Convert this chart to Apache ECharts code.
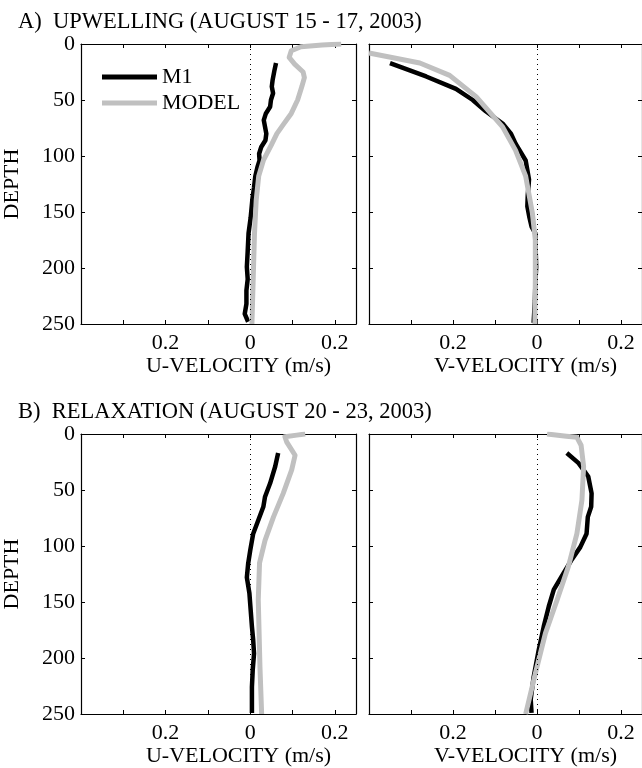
<!DOCTYPE html>
<html>
<head>
<meta charset="utf-8">
<script src="https://cdn.jsdelivr.net/npm/echarts@6/dist/echarts.min.js"></script>
<style>
  html, body { margin: 0; padding: 0; background: #fff; }
  #chart { width: 642px; height: 768px; }
</style>
</head>
<body>
<div id="chart"></div>
<script>
// Velocity profiles: depth (m) vs velocity (m/s), observed (M1) and model

// A) upwelling, U component
const depthM1UpU = [17, 24, 32, 38, 44, 50, 56, 62, 68, 74, 80, 86, 92, 98, 104, 110, 118, 128, 139, 155, 169, 185, 199, 210, 220, 232, 241, 248];
const m1UpU      = [0.061, 0.057, 0.053, 0.051, 0.054, 0.049, 0.047, 0.037, 0.032, 0.035, 0.038, 0.036, 0.026, 0.021, 0.022, 0.017, 0.012, 0.009, 0.005, 0.001, -0.004, -0.006, -0.008, -0.006, -0.009, -0.009, -0.013, -0.005];
const depthModelUpU = [0, 1, 2.5, 6, 12, 18, 25, 30, 38, 50, 62, 72, 80, 90, 104, 118, 140, 170, 210, 250];
const modelUpU      = [0.215, 0.17, 0.12, 0.097, 0.092, 0.105, 0.125, 0.128, 0.122, 0.112, 0.097, 0.078, 0.063, 0.050, 0.031, 0.020, 0.014, 0.010, 0.007, 0.004];

// A) upwelling, V component
const depthM1UpV = [17, 29, 40, 50, 60, 71, 80, 89, 104, 121, 135, 145, 155, 163, 169, 185, 199, 215, 229, 249];
const m1UpV      = [-0.350, -0.264, -0.193, -0.153, -0.122, -0.082, -0.062, -0.051, -0.027, -0.019, -0.022, -0.023, -0.018, -0.013, -0.004, -0.003, -0.002, -0.004, -0.005, -0.008];
const depthModelUpV = [8, 17, 28, 47, 74, 95, 118, 151, 175, 210, 250];
const modelUpV      = [-0.400, -0.279, -0.208, -0.145, -0.082, -0.051, -0.027, -0.011, -0.004, -0.004, -0.005];

// B) relaxation, U component
const depthM1RelU = [17, 29, 44, 56, 65, 77, 89, 104, 116, 128, 142, 157, 172, 184, 196, 210, 226, 249];
const m1RelU      = [0.066, 0.059, 0.047, 0.035, 0.031, 0.019, 0.007, 0.000, -0.005, -0.008, -0.002, 0.001, 0.004, 0.007, 0.009, 0.006, 0.004, 0.004];
const depthModelRelU = [0, 1, 2.4, 7, 19, 32, 53, 74, 95, 115, 148, 208, 250];
const modelRelU      = [0.13, 0.11, 0.082, 0.086, 0.106, 0.098, 0.078, 0.055, 0.035, 0.022, 0.019, 0.023, 0.027];

// B) relaxation, V component
const depthM1RelV = [17, 26, 38, 53, 65, 74, 89, 101, 112, 127, 139, 154, 172, 193, 217, 237, 249];
const m1RelV      = [0.071, 0.099, 0.122, 0.130, 0.129, 0.121, 0.118, 0.103, 0.083, 0.059, 0.040, 0.028, 0.016, 0.004, -0.008, -0.015, -0.013];
const depthModelRelV = [0, 2, 3, 10, 29, 59, 89, 118, 148, 178, 214, 250];
const modelRelV      = [0.024, 0.07, 0.095, 0.105, 0.111, 0.107, 0.095, 0.075, 0.048, 0.020, -0.004, -0.027];

// Axis ticks and labels
const depthTicks = [0, 50, 100, 150, 200, 250];
const velLabelValues = [-0.2, 0, 0.2];
const velLabelText = ['0.2', '0', '0.2'];

const panelTitles = ['A)  UPWELLING (AUGUST 15 - 17, 2003)', 'B)  RELAXATION (AUGUST 20 - 23, 2003)'];
const xNames = ['U-VELOCITY (m/s)', 'V-VELOCITY (m/s)'];
const seriesNames = ['M1', 'MODEL'];

const FONT = 'Liberation Serif';
const FS = 22;
const BLACK = '#000000';
const GRAY = '#c0c0c0';

const panels = [
  { row: 0, col: 0, m1: [depthM1UpU, m1UpU], model: [depthModelUpU, modelUpU] },
  { row: 0, col: 1, m1: [depthM1UpV, m1UpV], model: [depthModelUpV, modelUpV] },
  { row: 1, col: 0, m1: [depthM1RelU, m1RelU], model: [depthModelRelU, modelRelU] },
  { row: 1, col: 1, m1: [depthM1RelV, m1RelV], model: [depthModelRelV, modelRelV] }
];

const gridLeft = [81, 369];
const gridTop = [44, 434];
const gridW = 275, gridH = 280;

function pairs(depths, vals) {
  return vals.map((v, i) => [v, depths[i]]);
}

function velLabel(v) {
  const k = velLabelValues.findIndex(t => Math.abs(t - v) < 1e-6);
  return k >= 0 ? velLabelText[k] : '';
}

function depthLabel(v) {
  return depthTicks.indexOf(Math.round(v)) >= 0 ? String(Math.round(v)) : '';
}

const axisLineStyle = { lineStyle: { color: BLACK, width: 1.2 } };
const tickStyle = { show: true, inside: true, length: 4, lineStyle: { color: BLACK, width: 1 } };

const grids = [], xAxes = [], yAxes = [], series = [];

panels.forEach((p, gi) => {
  grids.push({ left: gridLeft[p.col], top: gridTop[p.row], width: gridW, height: gridH, containLabel: false });

  // bottom x axis with labels and name
  xAxes.push({
    gridIndex: gi, type: 'value', position: 'bottom', min: -0.4, max: 0.25, interval: 0.1,
    axisLine: Object.assign({ show: true, onZero: false }, axisLineStyle),
    axisTick: tickStyle, splitLine: { show: false },
    axisLabel: { show: true, margin: 8, formatter: velLabel, color: BLACK, fontFamily: FONT, fontSize: FS,
                 showMinLabel: false, showMaxLabel: false },
    name: xNames[p.col], nameLocation: 'middle', nameGap: 30,
    nameTextStyle: { color: BLACK, fontFamily: FONT, fontSize: FS, padding: [0, 0, 0, 40] }
  });
  // top x axis: frame and ticks only
  xAxes.push({
    gridIndex: gi, type: 'value', position: 'top', min: -0.4, max: 0.25, interval: 0.1,
    axisLine: Object.assign({ show: true, onZero: false }, axisLineStyle),
    axisTick: tickStyle, splitLine: { show: false }, axisLabel: { show: false }
  });
  // left y axis (depth)
  const yLeft = {
    gridIndex: gi, type: 'value', position: 'left', min: 0, max: 250, interval: 50, inverse: true,
    axisLine: Object.assign({ show: true, onZero: false }, axisLineStyle),
    axisTick: tickStyle, splitLine: { show: false },
    axisLabel: { show: p.col === 0, margin: 6, formatter: depthLabel, color: BLACK, fontFamily: FONT, fontSize: FS }
  };
  if (p.col === 0) {
    yLeft.name = 'DEPTH';
    yLeft.nameLocation = 'middle';
    yLeft.nameGap = 58;
    yLeft.nameTextStyle = { color: BLACK, fontFamily: FONT, fontSize: FS };
  }
  yAxes.push(yLeft);
  // right y axis: frame and ticks only
  yAxes.push({
    gridIndex: gi, type: 'value', position: 'right', min: 0, max: 250, interval: 50, inverse: true,
    axisLine: Object.assign({ show: true, onZero: false }, axisLineStyle),
    axisTick: tickStyle, splitLine: { show: false }, axisLabel: { show: false }
  });

  const xi = gi * 2, yi = gi * 2;
  series.push({
    name: seriesNames[0], type: 'line', xAxisIndex: xi, yAxisIndex: yi,
    data: pairs(p.m1[0], p.m1[1]), showSymbol: false, symbol: 'none', smooth: false, clip: true,
    lineStyle: { color: BLACK, width: 4.5, join: 'round' }, itemStyle: { color: BLACK },
    z: 3, animation: false,
    markLine: {
      silent: true, symbol: 'none', animation: false,
      label: { show: false },
      lineStyle: { color: BLACK, width: 1, type: [1, 4] },
      data: [{ xAxis: 0 }]
    }
  });
  series.push({
    name: seriesNames[1], type: 'line', xAxisIndex: xi, yAxisIndex: yi,
    data: pairs(p.model[0], p.model[1]), showSymbol: false, symbol: 'none', smooth: false, clip: true,
    lineStyle: { color: GRAY, width: 5, join: 'round' }, itemStyle: { color: GRAY },
    z: 4, animation: false
  });
});

const option = {
  backgroundColor: '#ffffff',
  animation: false,
  title: panelTitles.map((t, i) => ({
    text: t, left: 13, top: [6, 396][i],
    textStyle: { color: BLACK, fontFamily: FONT, fontSize: 22.5, fontWeight: 'normal' }
  })),
  legend: {
    data: seriesNames, orient: 'vertical', left: 97, top: 61,
    icon: 'rect', itemWidth: 55, itemHeight: 5, itemGap: 4,
    textStyle: { color: BLACK, fontFamily: FONT, fontSize: FS, lineHeight: 22 },
    selectedMode: false
  },
  grid: grids,
  xAxis: xAxes,
  yAxis: yAxes,
  series: series
};

const chart = echarts.init(document.getElementById('chart'), null, { renderer: 'canvas' });
chart.setOption(option);
</script>
</body>
</html>
